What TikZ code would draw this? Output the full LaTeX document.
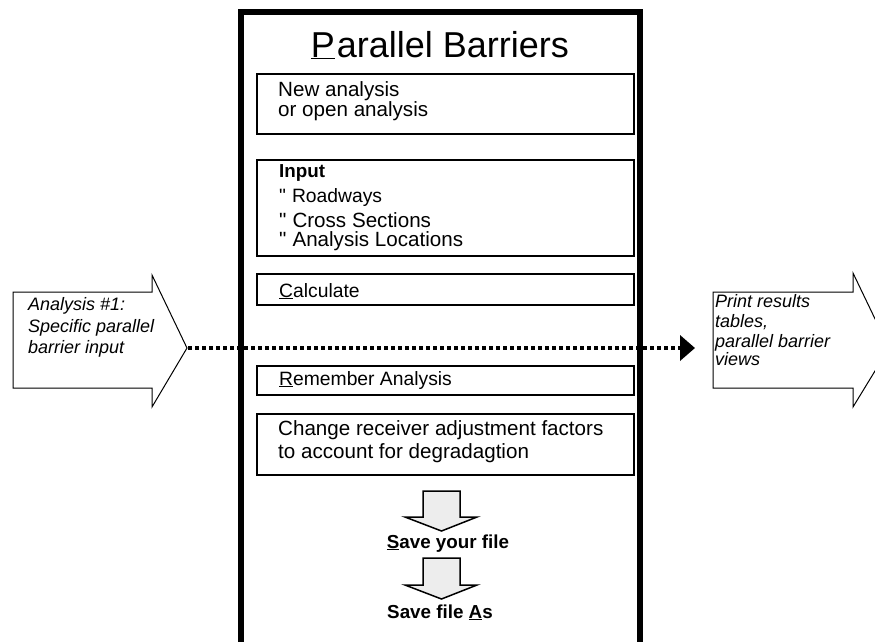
\documentclass[tikz,border=0pt]{standalone}
\usepackage{fontspec}
\setmainfont{Liberation Sans}
\newfontfamily\qfont{Liberation Sans}[Ligatures=TeXOff]
\usetikzlibrary{arrows.meta}
\newcommand{\dq}{{\qfont"}}
\begin{document}
\begin{tikzpicture}[x=1pt,y=-1pt,
  box/.style={draw, line width=1.6pt, anchor=north west, inner sep=0pt, minimum width=377pt},
  txt/.style={anchor=base west, inner sep=0pt, font=\fontsize{20.6}{22}\selectfont},
  stxt/.style={anchor=base west, inner sep=0pt, font=\fontsize{19.3}{21}\selectfont},
  itxt/.style={anchor=base west, inner sep=0pt, font=\fontsize{18}{20}\itshape},
  btxt/.style={anchor=base, inner sep=0pt, font=\fontsize{18.8}{20}\bfseries},
  bigarrow/.style={draw, line width=1pt, fill=white, line join=miter},
  downarrow/.style={draw, line width=1.5pt, fill=black!7, line join=miter},
  flowline/.style={line width=3.8pt, dash pattern=on 4pt off 3pt}
]
\useasboundingbox (0,0) rectangle (875,641);
\begin{scope}
\clip (0,0) rectangle (875,641);
% main frame
\draw[line width=6.5pt] (241,12) rectangle (640,700);
\node[anchor=base, inner sep=0pt, font=\fontsize{36}{40}\selectfont] (title) at (440,57) {\underline{P}\hspace{2pt}arallel Barriers};
% boxes
\node[box, minimum height=60pt] (b1) at (256,73) {};
\node[txt] (t1a) at (278,96) {New analysis};
\node[txt] (t1b) at (278,116) {or open analysis};
\node[box, minimum height=96pt] (b2) at (256,159) {};
\node[stxt, font=\fontsize{18.8}{20}\bfseries] (t2a) at (279,177) {Input};
\node[stxt] (t2b) at (279,202) {\dq\hspace{6pt}Roadways};
\node[txt] (t2c) at (279,227) {\dq\hspace{6pt}Cross Sections};
\node[txt] (t2d) at (279,246) {\dq\hspace{6pt}Analysis Locations};
\node[box, minimum height=31pt] (b3) at (256,273) {};
\node[stxt] (t3) at (279,297) {\underline{C}alculate};
\node[box, minimum height=29pt] (b4) at (256,365) {};
\node[stxt] (t4) at (279,385) {\underline{R}emember Analysis};
\node[box, minimum height=61pt] (b5) at (256,413) {};
\node[txt] (t5a) at (278,435) {Change receiver adjustment factors};
\node[txt] (t5b) at (278,458) {to account for degradagtion};
% down arrows
\draw[downarrow] (423,491) -- (460,491) -- (460,517) -- (477,517) -- (441.5,531) -- (405,517) -- (423,517) -- cycle;
\node[btxt] (save) at (448,548) {\underline{S}ave your file};
\draw[downarrow] (423,558) -- (460,558) -- (460,585) -- (477,585) -- (441.5,599) -- (405,585) -- (423,585) -- cycle;
\node[btxt] (saveas) at (440,618) {Save file \underline{A}s};
% left input arrow
\draw[bigarrow] (13,292) -- (152,292) -- (152,275) -- (187,348) -- (152,407) -- (152,388) -- (13,388) -- cycle;
\coordinate (ltip) at (188,348);
\node[itxt] (l1) at (28,310) {Analysis \#1:};
\node[itxt] (l2) at (28,332) {Specific parallel};
\node[itxt] (l3) at (28,353) {barrier input};
% right output arrow
\draw[bigarrow] (713,292) -- (853,292) -- (853,273) -- (889,348) -- (853,407) -- (853,388) -- (713,388) -- cycle;
\node[itxt] (r1) at (715,307) {Print results};
\node[itxt] (r2) at (715,327) {tables,};
\node[itxt] (r3) at (715,347) {parallel barrier};
\node[itxt] (r4) at (715,365) {views};
\coordinate (rend) at (695,348);
% flow connector
\draw[flowline, -{Triangle[length=15pt,width=25pt]}] (ltip) -- (rend);
\end{scope}
\end{tikzpicture}
\end{document}
